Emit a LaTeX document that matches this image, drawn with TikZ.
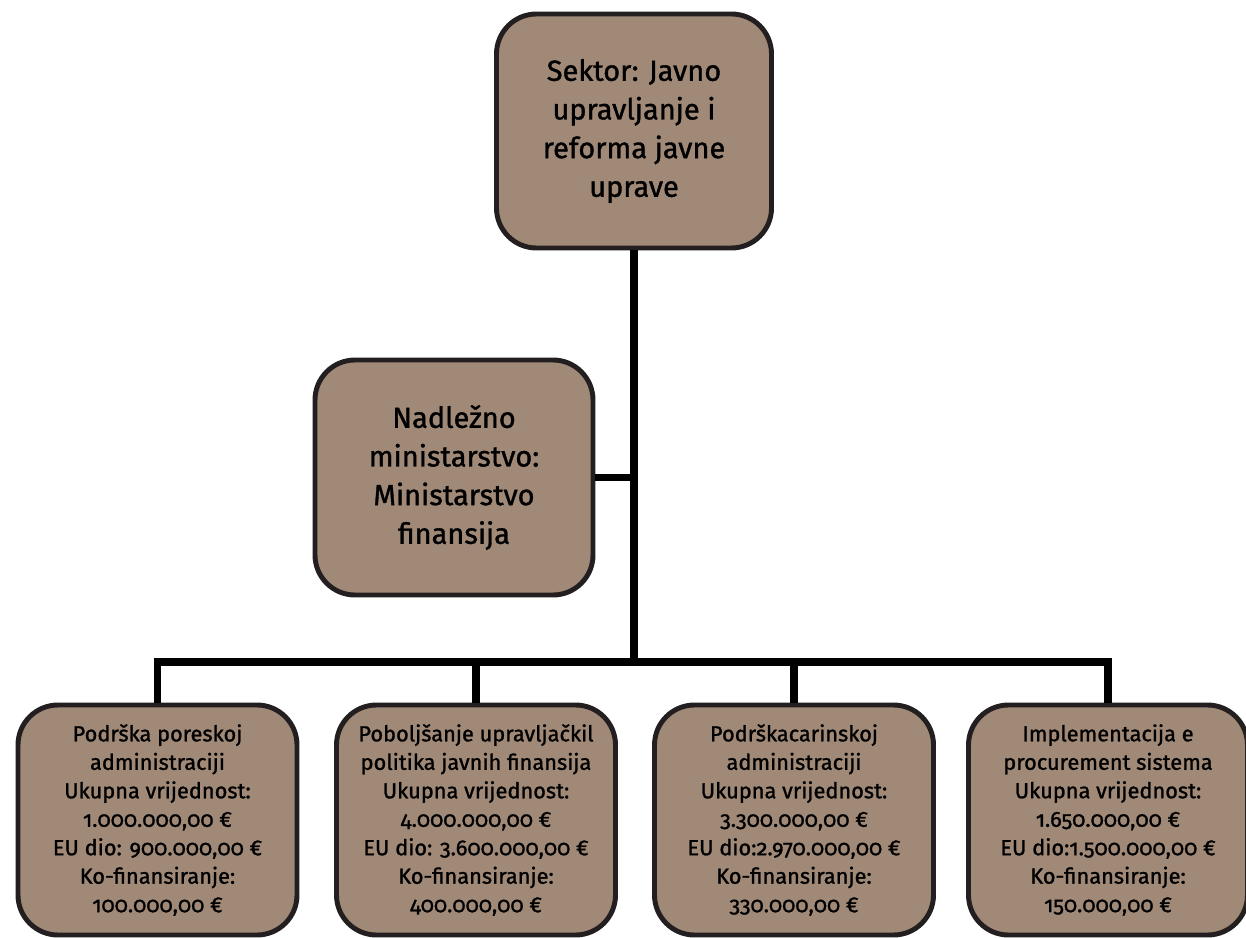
\documentclass[tikz,border=0pt]{standalone}
\usepackage{fontspec}
\setmainfont{Fira Sans}[Numbers=OldStyle, FakeBold=1.2]
\definecolor{boxfill}{RGB}{160,137,119}
\definecolor{boxline}{RGB}{35,31,32}
\tikzset{
  orgbox/.style={draw=boxline, fill=boxfill, line width=2.8pt, rounded corners=0.8cm,
    align=center, inner sep=0pt},
  bigbox/.style={orgbox, minimum width=5.5cm, minimum height=4.68cm,
    font=\fontsize{16.5}{22}\selectfont},
  projbox/.style={orgbox, minimum width=5.58cm, minimum height=4.6cm,
    font=\fontsize{12.4}{16.2}\selectfont},
  bus/.style={line width=4.5pt, black}
}
\begin{document}
\begin{tikzpicture}
  \useasboundingbox (0,0) rectangle (24.92,-18.74);
  % hierarchy
  \node[bigbox] (sektor) at (12.68,-2.62) {Sektor: Javno\\upravljanje i\\reforma javne\\uprave};
  \node[bigbox, minimum width=5.56cm, minimum height=4.7cm] (min) at (9.08,-9.55)
    {Nadležno\\ministarstvo:\\Ministarstvo\\finansija};
  \coordinate (hub) at (12.68,-13.24);
  % projects
  \node[projbox] (p1) at (3.15,-16.4) {Podrška poreskoj\\administraciji\\Ukupna vrijednost:\\1.000.000,00 €\\EU dio: 900.000,00 €\\Ko-finansiranje:\\100.000,00 €};
  \node[projbox] (p2) at (9.52,-16.4) {Poboljšanje upravljačkil\\politika javnih finansija\\Ukupna vrijednost:\\4.000.000,00 €\\EU dio: 3.600.000,00 €\\Ko-finansiranje:\\400.000,00 €};
  \node[projbox] (p3) at (15.88,-16.4) {Podrškacarinskoj\\administraciji\\Ukupna vrijednost:\\3.300.000,00 €\\EU dio:2.970.000,00 €\\Ko-finansiranje:\\330.000,00 €};
  \node[projbox] (p4) at (22.16,-16.4) {Implementacija e\\procurement sistema\\Ukupna vrijednost:\\1.650.000,00 €\\EU dio:1.500.000,00 €\\Ko-finansiranje:\\150.000,00 €};
  % lines
  \draw[bus] (sektor.south) -- (hub);
  \draw[bus] (min.east) -- (min.east -| hub);
  \draw[bus] (p1.north) -- (p1.north |- hub) -- (p4.north |- hub) -- (p4.north);
  \draw[bus] (p2.north |- hub) -- (p2.north);
  \draw[bus] (p3.north |- hub) -- (p3.north);
\end{tikzpicture}
\end{document}
